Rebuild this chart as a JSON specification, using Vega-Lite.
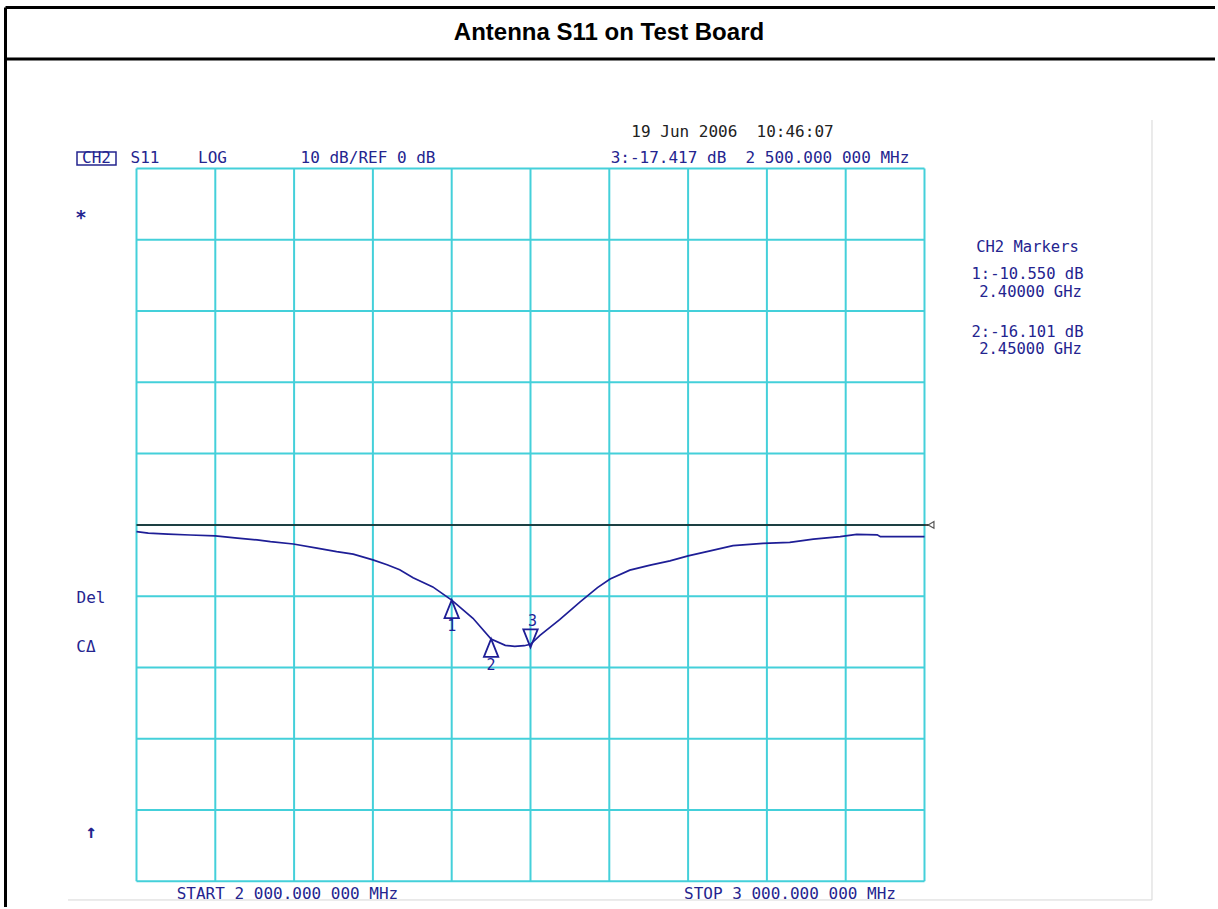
{
  "$schema": "https://vega.github.io/schema/vega-lite/v6.json",
  "width": 1218,
  "height": 909,
  "autosize": {"type": "fit", "contains": "padding"},
  "padding": 0,
  "background": "white",
  "config": {"view": {"stroke": null}},
  "datasets": {
    "trace": [
      {"f": 2.000, "db": -0.95}, {"f": 2.015, "db": -1.15}, {"f": 2.04, "db": -1.3}, {"f": 2.068, "db": -1.42},
      {"f": 2.10, "db": -1.55}, {"f": 2.128, "db": -1.85}, {"f": 2.153, "db": -2.1}, {"f": 2.17, "db": -2.35},
      {"f": 2.199, "db": -2.68}, {"f": 2.229, "db": -3.25}, {"f": 2.254, "db": -3.75}, {"f": 2.275, "db": -4.1},
      {"f": 2.300, "db": -4.9}, {"f": 2.318, "db": -5.6}, {"f": 2.334, "db": -6.3}, {"f": 2.351, "db": -7.4},
      {"f": 2.376, "db": -8.7}, {"f": 2.40, "db": -10.55}, {"f": 2.427, "db": -13.1}, {"f": 2.45, "db": -16.0},
      {"f": 2.468, "db": -16.9}, {"f": 2.48, "db": -17.05}, {"f": 2.492, "db": -16.95}, {"f": 2.50, "db": -16.75},
      {"f": 2.512, "db": -15.5}, {"f": 2.537, "db": -13.3}, {"f": 2.563, "db": -10.8}, {"f": 2.585, "db": -8.8},
      {"f": 2.601, "db": -7.6}, {"f": 2.626, "db": -6.35}, {"f": 2.652, "db": -5.65}, {"f": 2.677, "db": -5.05},
      {"f": 2.700, "db": -4.35}, {"f": 2.728, "db": -3.65}, {"f": 2.757, "db": -2.9}, {"f": 2.795, "db": -2.6},
      {"f": 2.829, "db": -2.45}, {"f": 2.859, "db": -2.0}, {"f": 2.893, "db": -1.65}, {"f": 2.914, "db": -1.32},
      {"f": 2.94, "db": -1.4}, {"f": 2.944, "db": -1.65}, {"f": 3.000, "db": -1.65}
    ],
    "vgrid": [
      {"f": 2.0, "lo": -50, "hi": 50}, {"f": 2.1, "lo": -50, "hi": 50}, {"f": 2.2, "lo": -50, "hi": 50},
      {"f": 2.3, "lo": -50, "hi": 50}, {"f": 2.4, "lo": -50, "hi": 50}, {"f": 2.5, "lo": -50, "hi": 50},
      {"f": 2.6, "lo": -50, "hi": 50}, {"f": 2.7, "lo": -50, "hi": 50}, {"f": 2.8, "lo": -50, "hi": 50},
      {"f": 2.9, "lo": -50, "hi": 50}, {"f": 3.0, "lo": -50, "hi": 50}
    ],
    "hgrid": [
      {"db": -50, "a": 2.0, "b": 3.0}, {"db": -40, "a": 2.0, "b": 3.0}, {"db": -30, "a": 2.0, "b": 3.0},
      {"db": -20, "a": 2.0, "b": 3.0}, {"db": -10, "a": 2.0, "b": 3.0}, {"db": 0, "a": 2.0, "b": 3.0},
      {"db": 10, "a": 2.0, "b": 3.0}, {"db": 20, "a": 2.0, "b": 3.0}, {"db": 30, "a": 2.0, "b": 3.0},
      {"db": 40, "a": 2.0, "b": 3.0}, {"db": 50, "a": 2.0, "b": 3.0}
    ],
    "ref": [{"db": 0, "a": 2.0, "b": 3.005}],
    "refend": [{"f": 3.0083, "db": 0}],
    "markers": [
      {"n": "1", "f": 2.40, "db": -10.55},
      {"n": "2", "f": 2.45, "db": -16.0},
      {"n": "3", "f": 2.50, "db": -16.75}
    ],
    "frame": [
      {"x1": 1.83376, "x2": 1.83376, "y1": 72.587, "y2": -53.6},
      {"x1": 1.83376, "x2": 3.36866, "y1": 72.587, "y2": 72.587},
      {"x1": 1.83376, "x2": 3.36866, "y1": 65.362, "y2": 65.362}
    ],
    "imgframe": [
      {"x1": 1.91307, "x2": 3.28871, "y1": -52.62, "y2": -52.62},
      {"x1": 3.28871, "x2": 3.28871, "y1": 56.80, "y2": -52.62}
    ],
    "navytext": [
      {"t": "CH2", "f": 1.94924, "db": 51.47},
      {"t": "S11", "f": 2.0108, "db": 51.47},
      {"t": "LOG", "f": 2.0965, "db": 51.47},
      {"t": "10 dB/REF 0 dB", "f": 2.2938, "db": 51.47},
      {"t": "3:-17.417 dB\u00a0\u00a02 500.000 000 MHz", "f": 2.79125, "db": 51.47},
      {"t": "Del", "f": 1.9423, "db": -10.19},
      {"t": "CΔ", "f": 1.9359, "db": -17.08},
      {"t": "START 2 000.000 000 MHz", "f": 2.1916, "db": -51.78},
      {"t": "STOP 3 000.000 000 MHz", "f": 2.8293, "db": -51.78}
    ],
    "symtext": [
      {"t": "*", "f": 1.9296, "db": 43.06},
      {"t": "↑", "f": 1.9423, "db": -43.15}
    ],
    "markertext": [
      {"t": "CH2 Markers", "f": 3.1307, "db": 38.99},
      {"t": "1:-10.550 dB", "f": 3.1307, "db": 35.17},
      {"t": "2.40000 GHz", "f": 3.1345, "db": 32.72},
      {"t": "2:-16.101 dB", "f": 3.1307, "db": 27.13},
      {"t": "2.45000 GHz", "f": 3.1345, "db": 24.61}
    ],
    "datetext": [{"t": "19 Jun 2006\u00a0\u00a010:46:07", "f": 2.75635, "db": 55.16}],
    "titletext": [{"t": "Antenna S11 on Test Board", "f": 2.59962, "db": 69.01}],
    "chbox": [{"a": 1.92450, "b": 1.97399, "lo": 50.491, "hi": 52.315}]
  },
  "layer": [
    {
      "data": {"name": "vgrid"},
      "mark": {"type": "rule", "color": "#44d0da", "strokeWidth": 2},
      "encoding": {
        "x": {"field": "f", "type": "quantitative", "scale": {"domain": [1.82678, 3.37247], "nice": false, "zero": false}, "axis": null},
        "y": {"field": "lo", "type": "quantitative", "scale": {"domain": [-53.886, 73.639], "nice": false, "zero": false}, "axis": null},
        "y2": {"field": "hi"}
      }
    },
    {
      "data": {"name": "hgrid"},
      "mark": {"type": "rule", "color": "#44d0da", "strokeWidth": 2},
      "encoding": {
        "y": {"field": "db", "type": "quantitative", "scale": {"domain": [-53.886, 73.639], "nice": false, "zero": false}, "axis": null},
        "x": {"field": "a", "type": "quantitative", "scale": {"domain": [1.82678, 3.37247], "nice": false, "zero": false}, "axis": null},
        "x2": {"field": "b"}
      }
    },
    {
      "data": {"name": "ref"},
      "mark": {"type": "rule", "color": "#111111", "strokeWidth": 1.5},
      "encoding": {
        "y": {"field": "db", "type": "quantitative", "scale": {"domain": [-53.886, 73.639], "nice": false, "zero": false}, "axis": null},
        "x": {"field": "a", "type": "quantitative", "scale": {"domain": [1.82678, 3.37247], "nice": false, "zero": false}, "axis": null},
        "x2": {"field": "b"}
      }
    },
    {
      "data": {"name": "refend"},
      "mark": {"type": "point", "shape": "triangle-left", "size": 45, "filled": false, "color": "#111111", "strokeWidth": 1.2},
      "encoding": {
        "x": {"field": "f", "type": "quantitative", "scale": {"domain": [1.82678, 3.37247], "nice": false, "zero": false}, "axis": null},
        "y": {"field": "db", "type": "quantitative", "scale": {"domain": [-53.886, 73.639], "nice": false, "zero": false}, "axis": null}
      }
    },
    {
      "data": {"name": "trace"},
      "mark": {"type": "line", "color": "#1e1e96", "strokeWidth": 1.7},
      "encoding": {
        "x": {"field": "f", "type": "quantitative", "scale": {"domain": [1.82678, 3.37247], "nice": false, "zero": false}, "axis": null},
        "y": {"field": "db", "type": "quantitative", "scale": {"domain": [-53.886, 73.639], "nice": false, "zero": false}, "axis": null}
      }
    },
    {
      "data": {"name": "markers"},
      "transform": [{"filter": "datum.n != '3'"}],
      "mark": {"type": "point", "shape": "M0,-1L0.8,1L-0.8,1Z", "size": 324, "filled": false, "color": "#1e1e96", "opacity": 1, "strokeWidth": 1.8, "yOffset": 9},
      "encoding": {
        "x": {"field": "f", "type": "quantitative", "scale": {"domain": [1.82678, 3.37247], "nice": false, "zero": false}, "axis": null},
        "y": {"field": "db", "type": "quantitative", "scale": {"domain": [-53.886, 73.639], "nice": false, "zero": false}, "axis": null}
      }
    },
    {
      "data": {"name": "markers"},
      "transform": [{"filter": "datum.n == '3'"}],
      "mark": {"type": "point", "shape": "M0,1L0.8,-1L-0.8,-1Z", "size": 324, "filled": false, "color": "#1e1e96", "opacity": 1, "strokeWidth": 1.8, "yOffset": -6},
      "encoding": {
        "x": {"field": "f", "type": "quantitative", "scale": {"domain": [1.82678, 3.37247], "nice": false, "zero": false}, "axis": null},
        "y": {"field": "db", "type": "quantitative", "scale": {"domain": [-53.886, 73.639], "nice": false, "zero": false}, "axis": null}
      }
    },
    {
      "data": {"name": "markers"},
      "transform": [{"filter": "datum.n != '3'"}],
      "mark": {"type": "text", "font": "DejaVu Sans Mono", "fontSize": 15, "color": "#1e1e96", "align": "center", "baseline": "middle", "yOffset": 26},
      "encoding": {
        "x": {"field": "f", "type": "quantitative", "scale": {"domain": [1.82678, 3.37247], "nice": false, "zero": false}, "axis": null},
        "y": {"field": "db", "type": "quantitative", "scale": {"domain": [-53.886, 73.639], "nice": false, "zero": false}, "axis": null},
        "text": {"field": "n"}
      }
    },
    {
      "data": {"name": "markers"},
      "transform": [{"filter": "datum.n == '3'"}],
      "mark": {"type": "text", "font": "DejaVu Sans Mono", "fontSize": 15, "color": "#1e1e96", "align": "center", "baseline": "middle", "yOffset": -23, "xOffset": 2},
      "encoding": {
        "x": {"field": "f", "type": "quantitative", "scale": {"domain": [1.82678, 3.37247], "nice": false, "zero": false}, "axis": null},
        "y": {"field": "db", "type": "quantitative", "scale": {"domain": [-53.886, 73.639], "nice": false, "zero": false}, "axis": null},
        "text": {"field": "n"}
      }
    },
    {
      "data": {"name": "chbox"},
      "mark": {"type": "rect", "filled": false, "stroke": "#24248f", "strokeWidth": 1.5},
      "encoding": {
        "x": {"field": "a", "type": "quantitative", "scale": {"domain": [1.82678, 3.37247], "nice": false, "zero": false}, "axis": null},
        "x2": {"field": "b"},
        "y": {"field": "lo", "type": "quantitative", "scale": {"domain": [-53.886, 73.639], "nice": false, "zero": false}, "axis": null},
        "y2": {"field": "hi"}
      }
    },
    {
      "data": {"name": "navytext"},
      "mark": {"type": "text", "font": "DejaVu Sans Mono", "fontSize": 16, "color": "#24248f", "align": "center", "baseline": "middle"},
      "encoding": {
        "x": {"field": "f", "type": "quantitative", "scale": {"domain": [1.82678, 3.37247], "nice": false, "zero": false}, "axis": null},
        "y": {"field": "db", "type": "quantitative", "scale": {"domain": [-53.886, 73.639], "nice": false, "zero": false}, "axis": null},
        "text": {"field": "t"}
      }
    },
    {
      "data": {"name": "symtext"},
      "mark": {"type": "text", "font": "DejaVu Sans Mono", "fontSize": 19, "fontWeight": "bold", "color": "#24248f", "align": "center", "baseline": "middle"},
      "encoding": {
        "x": {"field": "f", "type": "quantitative", "scale": {"domain": [1.82678, 3.37247], "nice": false, "zero": false}, "axis": null},
        "y": {"field": "db", "type": "quantitative", "scale": {"domain": [-53.886, 73.639], "nice": false, "zero": false}, "axis": null},
        "text": {"field": "t"}
      }
    },
    {
      "data": {"name": "markertext"},
      "mark": {"type": "text", "font": "DejaVu Sans Mono", "fontSize": 15.5, "color": "#24248f", "align": "center", "baseline": "middle"},
      "encoding": {
        "x": {"field": "f", "type": "quantitative", "scale": {"domain": [1.82678, 3.37247], "nice": false, "zero": false}, "axis": null},
        "y": {"field": "db", "type": "quantitative", "scale": {"domain": [-53.886, 73.639], "nice": false, "zero": false}, "axis": null},
        "text": {"field": "t"}
      }
    },
    {
      "data": {"name": "datetext"},
      "mark": {"type": "text", "font": "DejaVu Sans Mono", "fontSize": 16, "color": "#222222", "align": "center", "baseline": "middle"},
      "encoding": {
        "x": {"field": "f", "type": "quantitative", "scale": {"domain": [1.82678, 3.37247], "nice": false, "zero": false}, "axis": null},
        "y": {"field": "db", "type": "quantitative", "scale": {"domain": [-53.886, 73.639], "nice": false, "zero": false}, "axis": null},
        "text": {"field": "t"}
      }
    },
    {
      "data": {"name": "titletext"},
      "mark": {"type": "text", "font": "Liberation Sans", "fontSize": 24, "fontWeight": "bold", "color": "#000000", "align": "center", "baseline": "middle"},
      "encoding": {
        "x": {"field": "f", "type": "quantitative", "scale": {"domain": [1.82678, 3.37247], "nice": false, "zero": false}, "axis": null},
        "y": {"field": "db", "type": "quantitative", "scale": {"domain": [-53.886, 73.639], "nice": false, "zero": false}, "axis": null},
        "text": {"field": "t"}
      }
    },
    {
      "data": {"name": "imgframe"},
      "mark": {"type": "rule", "color": "#d6d6d6", "strokeWidth": 1},
      "encoding": {
        "x": {"field": "x1", "type": "quantitative", "scale": {"domain": [1.82678, 3.37247], "nice": false, "zero": false}, "axis": null},
        "x2": {"field": "x2"},
        "y": {"field": "y1", "type": "quantitative", "scale": {"domain": [-53.886, 73.639], "nice": false, "zero": false}, "axis": null},
        "y2": {"field": "y2"}
      }
    },
    {
      "data": {"name": "frame"},
      "mark": {"type": "rule", "color": "#000000", "strokeWidth": 3},
      "encoding": {
        "x": {"field": "x1", "type": "quantitative", "scale": {"domain": [1.82678, 3.37247], "nice": false, "zero": false}, "axis": null},
        "x2": {"field": "x2"},
        "y": {"field": "y1", "type": "quantitative", "scale": {"domain": [-53.886, 73.639], "nice": false, "zero": false}, "axis": null},
        "y2": {"field": "y2"}
      }
    }
  ]
}
